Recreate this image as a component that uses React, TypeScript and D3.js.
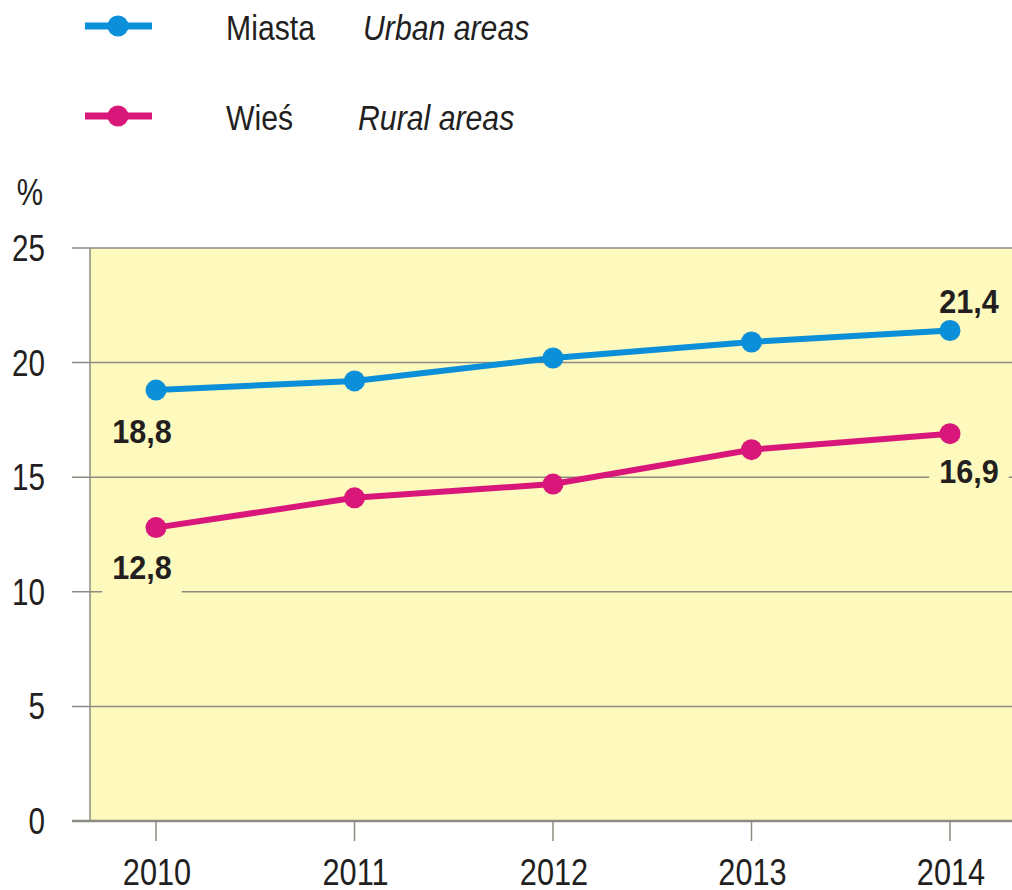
import React, { useEffect, useRef } from 'react';
import * as d3 from 'd3';

const years = ['2010', '2011', '2012', '2013', '2014'];
const urban = [18.8, 19.2, 20.2, 20.9, 21.4];
const rural = [12.8, 14.1, 14.7, 16.2, 16.9];
const yTicks = [0, 5, 10, 15, 20, 25];
const seriesNames = [
    { pl: 'Miasta', en: 'Urban areas' },
    { pl: 'Wieś', en: 'Rural areas' }
];
const valueLabels = ['18,8', '12,8', '21,4', '16,9'];

const W = 1012;
const H = 890;
const FONT = '"Liberation Sans", Arial, sans-serif';
const BLUE = '#0a8fd8';
const PINK = '#d9177b';
const FILL = '#fef9bd';
const GRID = '#8c8c82';
const INK = '#231f20';

type Sel = d3.Selection<SVGGElement | SVGSVGElement, unknown, null, undefined>;

// condensed text: Liberation Sans squeezed horizontally
function narrowText(
    parent: Sel, x: number, y: number, txt: string,
    opts: { size: number; sx: number; anchor?: string; weight?: string; italic?: boolean }
) {
    return parent.append('text')
        .attr('transform', `translate(${x},${y}) scale(${opts.sx},1)`)
        .attr('text-anchor', opts.anchor || 'start')
        .attr('font-family', FONT)
        .attr('font-size', opts.size)
        .attr('font-weight', opts.weight || 'normal')
        .attr('font-style', opts.italic ? 'italic' : 'normal')
        .attr('fill', INK)
        .text(txt);
}

const App: React.FC = () => {
    const svgRef = useRef<SVGSVGElement>(null);

    useEffect(() => {
        if (!svgRef.current) return;
        const svg = d3.select(svgRef.current) as unknown as Sel;
        svg.selectAll('*').remove();

        const margin = { top: 248, left: 90, bottom: 69 };
        const innerHeight = H - margin.top - margin.bottom;

        const x = d3.scalePoint<string>()
            .domain(years)
            .range([156, 950]);

        const y = d3.scaleLinear()
            .domain([0, 25])
            .range([margin.top + innerHeight, margin.top]);

        // Plot background
        svg.append('rect')
            .attr('x', margin.left)
            .attr('y', y(25))
            .attr('width', W - margin.left)
            .attr('height', y(0) - y(25))
            .attr('fill', FILL);

        // Grid lines (extend left of the frame as tick stubs)
        svg.append('g')
            .selectAll('line')
            .data(yTicks)
            .join('line')
            .attr('x1', 72)
            .attr('x2', W)
            .attr('y1', d => y(d))
            .attr('y2', d => y(d))
            .attr('stroke', GRID)
            .attr('stroke-width', d => (d === 0 ? 2.5 : 1.5));

        // Left frame
        svg.append('line')
            .attr('x1', margin.left)
            .attr('x2', margin.left)
            .attr('y1', y(25))
            .attr('y2', y(0))
            .attr('stroke', GRID)
            .attr('stroke-width', 1.5);

        // Y axis labels
        const yg = svg.append('g') as unknown as Sel;
        yTicks.forEach(d => {
            narrowText(yg, 45, y(d) + 13, String(d), { size: 37, sx: 0.8, anchor: 'end' });
        });
        narrowText(yg, 30, 205, '%', { size: 37, sx: 0.8, anchor: 'middle' });

        // X ticks and labels
        const xg = svg.append('g') as unknown as Sel;
        xg.selectAll('line')
            .data(years)
            .join('line')
            .attr('x1', d => x(d)!)
            .attr('x2', d => x(d)!)
            .attr('y1', y(0))
            .attr('y2', y(0) + 20)
            .attr('stroke', GRID)
            .attr('stroke-width', 1.5);
        years.forEach(d => {
            narrowText(xg, x(d)! + 1, 885, d, { size: 37, sx: 0.83, anchor: 'middle' });
        });

        // Value labels with a background that cuts the grid lines
        const labelPos = [
            { x: x('2010')! - 14, y: 443 },
            { x: x('2010')! - 14, y: 579 },
            { x: x('2014')! + 19, y: 313 },
            { x: x('2014')! + 19, y: 483 }
        ];
        valueLabels.forEach((txt, i) => {
            const p = labelPos[i];
            const g = svg.append('g') as unknown as Sel;
            const bg = g.append('rect').attr('fill', FILL);
            const t = narrowText(g, p.x, p.y, txt, { size: 34, sx: 0.9, anchor: 'middle', weight: 'bold' });
            const bb = (t.node() as SVGTextElement).getBBox();
            const w = bb.width * 0.9;
            bg.attr('x', p.x - w / 2 - 10)
                .attr('y', p.y - 28)
                .attr('width', w + 20)
                .attr('height', 42);
        });

        // Lines
        const line = d3.line<number>()
            .x((_, i) => x(years[i])!)
            .y(d => y(d));

        [[urban, BLUE], [rural, PINK]].forEach(([vals, color]) => {
            const v = vals as number[];
            svg.append('path')
                .datum(v)
                .attr('fill', 'none')
                .attr('stroke', color as string)
                .attr('stroke-width', 6)
                .attr('d', line);
            svg.append('g')
                .selectAll('circle')
                .data(v)
                .join('circle')
                .attr('cx', (_, i) => x(years[i])!)
                .attr('cy', d => y(d))
                .attr('r', 10.5)
                .attr('fill', color as string);
        });

        // Legend
        const legend = svg.append('g') as unknown as Sel;
        [BLUE, PINK].forEach((color, i) => {
            const ly = 26 + i * 90;
            legend.append('line')
                .attr('x1', 85)
                .attr('x2', 152)
                .attr('y1', ly)
                .attr('y2', ly)
                .attr('stroke', color)
                .attr('stroke-width', 7);
            legend.append('circle')
                .attr('cx', 118)
                .attr('cy', ly)
                .attr('r', 10.5)
                .attr('fill', color);
            narrowText(legend, 226, ly + 14, seriesNames[i].pl, { size: 36, sx: 0.84 });
            narrowText(legend, i === 0 ? 363 : 358, ly + 14, seriesNames[i].en, { size: 36, sx: 0.84, italic: true });
        });
    }, []);

    return (
        <svg
            ref={svgRef}
            width={W}
            height={H}
            style={{ position: 'absolute', left: 0, top: 0, background: '#fff' }}
        />
    );
};

export default App;
